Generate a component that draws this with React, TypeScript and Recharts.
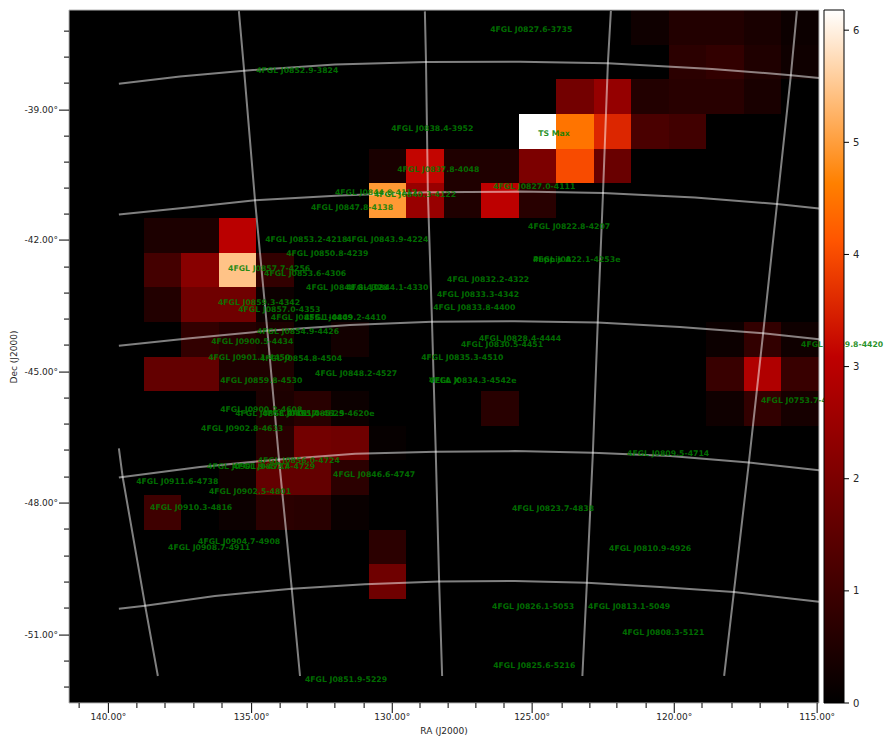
import {
  Bar,
  BarChart,
  ReferenceArea,
  Scatter,
  ScatterChart,
  XAxis,
  YAxis,
} from "recharts";

// Test statistic map, 20 x 20 pixels, top row first
const tsRow00 = [0, 0, 0, 0, 0, 0, 0, 0, 0, 0, 0, 0, 0, 0, 0, 0.25, 0.55, 0.55, 0.4, 0.2];
const tsRow01 = [0, 0, 0, 0, 0, 0, 0, 0, 0, 0, 0, 0, 0, 0, 0, 0, 0.7, 0.8, 0.5, 0.25];
const tsRow02 = [0, 0, 0, 0, 0, 0, 0, 0, 0, 0, 0, 0, 0, 1.85, 2.4, 0.55, 0.65, 0.65, 0.4, 0];
const tsRow03 = [0, 0, 0, 0, 0, 0, 0, 0, 0, 0, 0, 0, 6.18, 4.5, 3.55, 1.2, 1.05, 0, 0, 0];
const tsRow04 = [0, 0, 0, 0, 0, 0, 0, 0, 0.4, 3.15, 0.5, 0.5, 2.0, 4.0, 1.7, 0, 0, 0, 0, 0];
const tsRow05 = [0, 0, 0, 0, 0, 0, 0, 0, 4.95, 2.45, 0.5, 3.05, 0.65, 0, 0, 0, 0, 0, 0, 0];
const tsRow06 = [0, 0, 0.45, 0.45, 3.0, 0, 0, 0, 0, 0, 0, 0, 0, 0, 0, 0, 0, 0, 0, 0];
const tsRow07 = [0, 0, 1.1, 2.2, 5.45, 0.8, 0, 0, 0, 0, 0, 0, 0, 0, 0, 0, 0, 0, 0, 0];
const tsRow08 = [0, 0, 0.55, 1.8, 1.8, 0.2, 0, 0, 0, 0, 0, 0, 0, 0, 0, 0, 0, 0, 0, 0];
const tsRow09 = [0, 0, 0, 0.8, 0.6, 0.45, 0, 0.3, 0, 0, 0, 0, 0, 0, 0, 0, 0, 0.2, 0.8, 0.25];
const tsRow10 = [0, 0, 1.6, 1.6, 0.5, 0.5, 0, 0, 0, 0, 0, 0, 0, 0, 0, 0, 0, 0.9, 2.85, 0.9];
const tsRow11 = [0, 0, 0, 0, 0, 0.45, 0.65, 0.2, 0, 0, 0, 0.65, 0, 0, 0, 0, 0, 0.25, 0.8, 0.35];
const tsRow12 = [0, 0, 0, 0, 0, 0.65, 1.85, 1.8, 0.1, 0, 0, 0, 0, 0, 0, 0, 0, 0, 0, 0];
const tsRow13 = [0, 0, 0, 0, 0.25, 1.6, 1.6, 0.7, 0, 0, 0, 0, 0, 0, 0, 0, 0, 0, 0, 0];
const tsRow14 = [0, 0, 1.0, 0, 0.2, 0.7, 0.65, 0.15, 0, 0, 0, 0, 0, 0, 0, 0, 0, 0, 0, 0];
const tsRow15 = [0, 0, 0, 0, 0, 0, 0, 0, 0.7, 0, 0, 0, 0, 0, 0, 0, 0, 0, 0, 0];
const tsRow16 = [0, 0, 0, 0, 0, 0, 0, 0, 1.8, 0, 0, 0, 0, 0, 0, 0, 0, 0, 0, 0];
const tsRow17 = [0, 0, 0, 0, 0, 0, 0, 0, 0, 0, 0, 0, 0, 0, 0, 0, 0, 0, 0, 0];
const tsRow18 = [0, 0, 0, 0, 0, 0, 0, 0, 0, 0, 0, 0, 0, 0, 0, 0, 0, 0, 0, 0];
const tsRow19 = [0, 0, 0, 0, 0, 0, 0, 0, 0, 0, 0, 0, 0, 0, 0, 0, 0, 0, 0, 0];
const tsRows = [
  tsRow00, tsRow01, tsRow02, tsRow03, tsRow04, tsRow05, tsRow06, tsRow07, tsRow08, tsRow09,
  tsRow10, tsRow11, tsRow12, tsRow13, tsRow14, tsRow15, tsRow16, tsRow17, tsRow18, tsRow19,
];
const tsMax = 6.18;
const colorbarTicks = [0, 1, 2, 3, 4, 5, 6];

// Axis ticks in map pixel units
const raMajor: Record<string, string> = {
  "1.05": "140.00°",
  "4.87": "135.00°",
  "8.62": "130.00°",
  "12.35": "125.00°",
  "16.14": "120.00°",
  "19.95": "115.00°",
};
const raMinor = [
  0.27, 1.81, 2.56, 3.33, 4.08, 5.63, 6.35, 7.09, 7.87, 9.36, 10.11, 10.85, 11.6, 13.15, 13.89,
  14.61, 15.39, 16.88, 17.68, 18.43, 19.17,
];
const topMajor = [3.17, 8.19, 13.15, 18.16];
const topMinor = [
  0.13, 1.12, 2.13, 4.16, 5.15, 6.16, 7.15, 9.15, 10.13, 11.15, 12.13, 14.13, 15.15, 16.13, 17.15,
  19.17,
];
const decMajor: Record<string, string> = {
  "2.89": "-39.00°",
  "6.64": "-42.00°",
  "10.45": "-45.00°",
  "14.23": "-48.00°",
  "18.04": "-51.00°",
};
const decMinor = [
  0.61, 1.36, 2.11, 3.64, 4.39, 5.14, 5.89, 7.42, 8.17, 8.92, 9.67, 11.2, 11.95, 12.7, 13.48, 14.98,
  15.76, 16.51, 17.26, 18.79, 19.54,
];

// Coordinate grid, [column, row]
const decLines = [
  [[1.33, 2.13], [2.96, 1.92], [4.67, 1.75], [7.09, 1.57], [9.52, 1.5], [12.03, 1.49], [14.37, 1.54], [17.15, 1.7], [19.25, 1.88], [20, 1.96]],
  [[1.33, 5.9], [3.23, 5.69], [4.96, 5.49], [7.23, 5.35], [9.57, 5.26], [12.03, 5.24], [14.24, 5.28], [16.69, 5.41], [18.88, 5.6], [20, 5.73]],
  [[1.33, 9.69], [3.23, 9.47], [5.29, 9.26], [7.49, 9.09], [9.68, 9.0], [11.89, 8.98], [14.1, 9.02], [16.29, 9.15], [18.51, 9.33], [20, 9.5]],
  [[1.33, 13.49], [3.49, 13.19], [5.6, 12.97], [7.63, 12.81], [9.78, 12.75], [11.89, 12.73], [13.97, 12.78], [16.03, 12.87], [18.13, 13.06], [20, 13.28]],
  [[1.33, 17.28], [2.03, 17.19], [3.89, 16.91], [5.94, 16.7], [7.89, 16.57], [9.87, 16.49], [11.89, 16.48], [13.81, 16.53], [15.76, 16.65], [17.73, 16.8], [20, 17.08]],
];
const raLines = [
  [[1.33, 12.65], [1.43, 13.47], [2.03, 17.19], [2.37, 19.22]],
  [[4.53, 0.03], [4.67, 1.75], [4.96, 5.49], [5.29, 9.26], [5.6, 12.97], [5.94, 16.7], [6.16, 19.22]],
  [[9.49, 0.04], [9.52, 1.5], [9.57, 5.26], [9.68, 9.0], [9.78, 12.75], [9.87, 16.49], [9.95, 19.22]],
  [[14.45, 0.03], [14.37, 1.54], [14.24, 5.28], [14.1, 9.02], [13.97, 12.78], [13.81, 16.53], [13.69, 19.22]],
  [[19.41, 0.03], [19.25, 1.88], [18.88, 5.6], [18.51, 9.33], [18.13, 13.06], [17.73, 16.8], [17.47, 19.22]],
];

// Catalogue sources: name, column, row of the label start
const sources: [string, number, number][] = [
  ["4FGL J0827.6-3735", 11.23, 0.56],
  ["4FGL J0852.9-3824", 4.99, 1.72],
  ["4FGL J0838.4-3952", 8.59, 3.41],
  ["4FGL J0837.8-4048", 8.75, 4.6],
  ["4FGL J0844.8-4117", 7.09, 5.24],
  ["4FGL J0840.3-4122", 8.13, 5.32],
  ["4FGL J0847.8-4138", 6.45, 5.69],
  ["4FGL J0827.0-4111", 11.31, 5.07],
  ["4FGL J0822.8-4207", 12.24, 6.24],
  ["4FGL J0853.2-4218", 5.23, 6.6],
  ["4FGL J0843.9-4224", 7.39, 6.62],
  ["4FGL J0850.8-4239", 5.79, 7.02],
  ["4FGL J0857.7-4256", 4.24, 7.45],
  ["4FGL J0853.6-4306", 5.2, 7.6],
  ["4FGL J0848.8-4328", 6.32, 8.0],
  ["4FGL J0844.1-4330", 7.39, 8.0],
  ["4FGL J0832.2-4322", 10.08, 7.77],
  ["4FGL J0833.3-4342", 9.81, 8.2],
  ["4FGL J0833.8-4400", 9.71, 8.58],
  ["4FGL J0859.3-4342", 3.97, 8.44],
  ["4FGL J0857.0-4353", 4.51, 8.64],
  ["4FGL J0855.1-4409", 5.38, 8.87],
  ["4FGL J0849.2-4410", 6.27, 8.87],
  ["4FGL J0854.9-4426", 5.01, 9.27],
  ["4FGL J0900.5-4434", 3.79, 9.56],
  ["4FGL J0901.1-4450", 3.71, 10.02],
  ["4FGL J0854.8-4504", 5.09, 10.05],
  ["4FGL J0848.2-4527", 6.56, 10.48],
  ["4FGL J0859.8-4530", 4.03, 10.69],
  ["4FGL J0828.4-4444", 10.93, 9.47],
  ["4FGL J0830.5-4451", 10.45, 9.65],
  ["4FGL J0835.3-4510", 9.39, 10.02],
  ["4FGL J0834.3-4542e", 9.6, 10.69],
  ["VELA X", 9.6, 10.69],
  ["4FGL J0900.2-4608", 4.03, 11.51],
  ["4FGL J0858.9-4617", 4.43, 11.62],
  ["4FGL J0855.4-4625", 5.15, 11.62],
  ["4FGL J0851.9-4620e", 5.81, 11.62],
  ["4FGL J0902.8-4633", 3.52, 12.07],
  ["4FGL J0809.5-4714", 14.88, 12.79],
  ["4FGL J0856.0-4724", 5.03, 13.0],
  ["4FGL J0857.4-4729", 4.37, 13.15],
  ["4FGL J0901.9-4737", 3.68, 13.17],
  ["4FGL J0846.6-4747", 7.04, 13.38],
  ["4FGL J0911.6-4738", 1.79, 13.6],
  ["4FGL J0902.5-4801", 3.73, 13.89],
  ["4FGL J0910.3-4816", 2.16, 14.35],
  ["4FGL J0823.7-4838", 11.81, 14.38],
  ["4FGL J0904.7-4908", 3.44, 15.32],
  ["4FGL J0908.7-4911", 2.64, 15.49],
  ["4FGL J0810.9-4926", 14.4, 15.52],
  ["4FGL J0826.1-5053", 11.28, 17.19],
  ["4FGL J0813.1-5049", 13.84, 17.21],
  ["4FGL J0808.3-5121", 14.75, 17.94],
  ["4FGL J0825.6-5216", 11.31, 18.91],
  ["4FGL J0851.9-5229", 6.29, 19.3],
  ["4FGL J0822.1-4253e", 12.37, 7.19],
  ["Puppis A", 12.37, 7.19],
  ["4FGL J0753.7-4557", 18.45, 11.26],
  ["4FGL J0759.8-4420", 19.52, 9.63],
];
const tsMaxLabel: [string, number, number][] = [["TS Max", 12.51, 3.56]];

const FONT = "DejaVu Sans";

// matplotlib gist_heat
function gistHeat(t: number) {
  const c = Math.max(0, Math.min(1, t));
  const r = Math.min(1, 1.5 * c);
  const g = Math.max(0, 2 * c - 1);
  const b = Math.max(0, 4 * c - 3);
  return `rgb(${Math.round(r * 255)},${Math.round(g * 255)},${Math.round(b * 255)})`;
}

const toPoints = (line: number[][]) => line.map(([x, y]) => ({ x, y }));
const toLabels = (rows: [string, number, number][]) =>
  rows.map(([name, x, y]) => ({ name, x, y }));

const sourcePoints = toLabels(sources);
const tsMaxPoints = toLabels(tsMaxLabel);
const colorbarData = [{ name: "TS", top: tsMax }];
const gradientStops = [0, 0.5, 2 / 3, 0.75, 1];

// the image edges land on half pixels, the original rounds them down
const CellShape = (p: any) => {
  const left = Math.floor(p.x);
  const right = Math.floor(p.x + p.width);
  return (
    <rect x={left} y={p.y} width={right - left} height={p.height} fill={p.fill} shapeRendering="crispEdges" />
  );
};

const BottomTick = ({ x, y, payload }: any) => {
  const label = raMajor[String(payload.value)];
  return (
    <g>
      <line x1={x} x2={x} y1={y} y2={y + (label ? 10 : 5)} stroke="#000" />
      {label && (
        <text x={x} y={y + 17} textAnchor="middle" fontSize={9} fontFamily={FONT} fill="#262626">
          {label}
        </text>
      )}
    </g>
  );
};

const TopTick = ({ x, y, payload }: any) => (
  <line x1={x} x2={x} y1={y} y2={y - (topMajor.includes(payload.value) ? 10 : 5)} stroke="#000" />
);

const LeftTick = ({ x, y, payload }: any) => {
  const label = decMajor[String(payload.value)];
  return (
    <g>
      <line x1={x} x2={x - (label ? 10 : 5)} y1={y} y2={y} stroke="#000" />
      {label && (
        <text x={x - 11} y={y + 3} textAnchor="end" fontSize={9} fontFamily={FONT} fill="#262626">
          {label}
        </text>
      )}
    </g>
  );
};

const RightTick = ({ x, y }: any) => <line x1={x} x2={x + 5} y1={y} y2={y} stroke="#000" />;

const ColorbarTick = ({ x, y, payload }: any) => (
  <g>
    <line x1={x} x2={x + 5} y1={y} y2={y} stroke="#000" />
    <text x={x + 9} y={y + 3.5} fontSize={10} fontFamily={FONT} fill="#262626">
      {payload.value}
    </text>
  </g>
);

const SourceLabel = ({ cx, cy, payload }: any) => (
  <text x={cx} y={cy + 3} fontSize={7.75} fontWeight="bold" fontFamily={FONT} fill="#008000" fillOpacity={0.85}>
    {payload.name}
  </text>
);

const axisFrame = { stroke: "#b4b4b4" };
const colTicks = [...Object.keys(raMajor).map(Number), ...raMinor];
const rowTicks = [...Object.keys(decMajor).map(Number), ...decMinor];
const noShape = () => <g />;

export default function App() {
  return (
    <div style={{ position: "absolute", left: 0, top: 0, width: 895, height: 746 }}>
      <div style={{ position: "absolute", left: 0, top: 0 }}>
        <ScatterChart
          width={895}
          height={746}
          margin={{ top: 0, right: 71, bottom: 0, left: 0 }}
        >
          <XAxis
            xAxisId="bottom"
            type="number"
            dataKey="x"
            domain={[0, 20]}
            ticks={colTicks}
            interval={0}
            height={43}
            axisLine={axisFrame}
            tickLine={false}
            tickSize={0}
            tickMargin={0}
            tick={<BottomTick />}
          />
          <XAxis
            xAxisId="top"
            orientation="top"
            type="number"
            dataKey="x"
            domain={[0, 20]}
            ticks={[...topMajor, ...topMinor]}
            interval={0}
            height={10}
            axisLine={axisFrame}
            tickLine={false}
            tickSize={0}
            tickMargin={0}
            tick={<TopTick />}
          />
          <YAxis
            yAxisId="left"
            type="number"
            dataKey="y"
            domain={[0, 20]}
            reversed
            ticks={rowTicks}
            interval={0}
            width={69}
            axisLine={axisFrame}
            tickLine={false}
            tickSize={0}
            tickMargin={0}
            tick={<LeftTick />}
          />
          <YAxis
            yAxisId="right"
            orientation="right"
            type="number"
            dataKey="y"
            domain={[0, 20]}
            reversed
            ticks={rowTicks}
            interval={0}
            width={5}
            axisLine={axisFrame}
            tickLine={false}
            tickSize={0}
            tickMargin={0}
            tick={<RightTick />}
          />
          {tsRows.map((row, r) =>
            row.map((value, c) => (
              <ReferenceArea
                key={`${r}-${c}`}
                xAxisId="bottom"
                yAxisId="left"
                x1={c}
                x2={c + 1}
                y1={r}
                y2={r + 1}
                fill={gistHeat(value / tsMax)}
                fillOpacity={1}
                stroke="none"
                shape={CellShape}
              />
            )),
          )}
          {[...decLines, ...raLines].map((line, i) => (
            <Scatter
              key={`grid-${i}`}
              xAxisId="bottom"
              yAxisId="left"
              data={toPoints(line)}
              line={{ stroke: "#fff", strokeOpacity: 0.5, strokeWidth: 2 }}
              shape={noShape}
              isAnimationActive={false}
            />
          ))}
          <Scatter
            xAxisId="bottom"
            yAxisId="left"
            data={sourcePoints}
            shape={SourceLabel}
            isAnimationActive={false}
          />
          <Scatter
            xAxisId="bottom"
            yAxisId="left"
            data={tsMaxPoints}
            shape={SourceLabel}
            isAnimationActive={false}
          />
        </ScatterChart>
        <svg
          width={895}
          height={746}
          style={{ position: "absolute", left: 0, top: 0, pointerEvents: "none" }}
        >
          <text x={444} y={734} textAnchor="middle" fontSize={9} fontFamily={FONT} fill="#262626">
            RA (J2000)
          </text>
          <text
            transform="translate(16.5,357) rotate(-90)"
            textAnchor="middle"
            fontSize={9}
            fontFamily={FONT}
            fill="#262626"
          >
            Dec (J2000)
          </text>
        </svg>
      </div>
      <div style={{ position: "absolute", left: 819, top: 0 }}>
        <BarChart
          width={76}
          height={746}
          data={colorbarData}
          barCategoryGap={0}
          margin={{ top: 10, right: 0, bottom: 43, left: 5 }}
        >
          <defs>
            <linearGradient id="tsGradient" x1="0" y1="1" x2="0" y2="0">
              {gradientStops.map((s) => (
                <stop key={s} offset={s} stopColor={gistHeat(s)} />
              ))}
            </linearGradient>
          </defs>
          <XAxis dataKey="name" hide />
          <YAxis
            orientation="right"
            type="number"
            domain={[0, tsMax]}
            ticks={colorbarTicks}
            interval={0}
            width={51}
            axisLine={false}
            tickLine={false}
            tickSize={0}
            tickMargin={0}
            tick={<ColorbarTick />}
          />
          <Bar dataKey="top" fill="url(#tsGradient)" stroke="#000" isAnimationActive={false} />
        </BarChart>
      </div>
    </div>
  );
}
